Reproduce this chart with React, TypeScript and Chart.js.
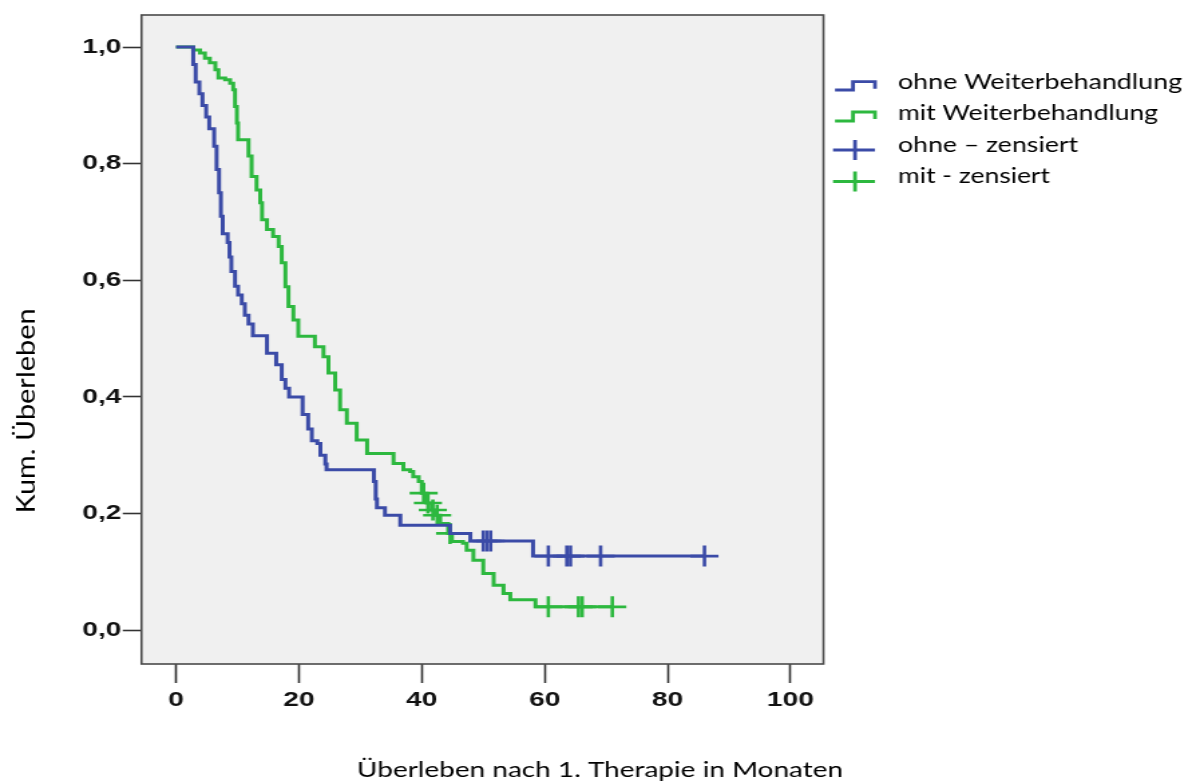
import React, { useEffect, useRef } from 'react';
import { Chart, registerables } from 'chart.js';

Chart.register(...registerables);

// ---------- data ----------
const xTickValues = [0, 20, 40, 60, 80, 100];
const xTickLabels = ['0', '20', '40', '60', '80', '100'];
const yTickValues = [0, 0.2, 0.4, 0.6, 0.8, 1.0];
const yTickLabels = ['0,0', '0,2', '0,4', '0,6', '0,8', '1,0'];
const seriesNames = ['ohne Weiterbehandlung', 'mit Weiterbehandlung', 'ohne – zensiert', 'mit - zensiert'];
const xTitle = 'Überleben nach 1. Therapie in Monaten';
const yTitle = 'Kum. Überleben';

const ohneTimes = [0, 2.8, 3.2, 3.8, 4.3, 4.9, 5.4, 6.2, 6.6, 7.0, 7.3, 7.6, 8.4, 8.7, 9.0, 9.6, 10.1, 10.7, 11.2, 11.8, 12.5, 14.8, 16.3, 17.2, 17.8, 18.4, 20.6, 21.5, 22.1, 23.0, 23.5, 24.3, 24.5, 32.2, 32.5, 32.7, 34.0, 36.5, 44.6, 47.9, 58.1, 86.0];
const ohneSurv = [1, 0.97, 0.94, 0.92, 0.9, 0.88, 0.86, 0.83, 0.79, 0.75, 0.71, 0.68, 0.665, 0.64, 0.615, 0.59, 0.575, 0.56, 0.54, 0.525, 0.505, 0.475, 0.455, 0.43, 0.415, 0.4, 0.37, 0.345, 0.325, 0.32, 0.3, 0.285, 0.275, 0.255, 0.225, 0.21, 0.197, 0.18, 0.166, 0.153, 0.127, 0.127];

const mitTimes = [0, 2.8, 3.9, 4.7, 5.5, 6.4, 6.9, 8.0, 8.8, 9.3, 9.6, 9.9, 10.1, 11.8, 12.3, 13.1, 13.7, 14.0, 14.8, 15.8, 16.7, 17.2, 17.8, 18.3, 19.1, 19.9, 22.6, 24.0, 24.8, 25.9, 26.7, 27.8, 29.4, 31.1, 35.4, 37.0, 38.1, 38.6, 39.5, 40.0, 40.8, 41.6, 42.2, 43.0, 44.3, 44.9, 46.7, 47.3, 48.4, 50.0, 51.7, 53.3, 54.4, 58.5, 71.0];
const mitSurv = [1, 0.995, 0.99, 0.981, 0.973, 0.961, 0.947, 0.944, 0.938, 0.927, 0.898, 0.87, 0.841, 0.813, 0.778, 0.755, 0.733, 0.704, 0.687, 0.675, 0.658, 0.63, 0.589, 0.555, 0.532, 0.504, 0.486, 0.469, 0.441, 0.412, 0.378, 0.355, 0.326, 0.303, 0.286, 0.275, 0.272, 0.263, 0.255, 0.235, 0.218, 0.206, 0.197, 0.183, 0.166, 0.152, 0.149, 0.137, 0.12, 0.097, 0.077, 0.063, 0.052, 0.04, 0.04];

const ohneCensTimes = [50.0, 50.6, 51.2, 60.6, 63.6, 64.2, 69.1, 86.0];
const ohneCensSurv = [0.153, 0.153, 0.153, 0.127, 0.127, 0.127, 0.127, 0.127];
const mitCensTimes = [40.3, 41.0, 41.8, 42.5, 44.6, 60.6, 65.5, 66.1, 71.0];
const mitCensSurv = [0.235, 0.218, 0.206, 0.197, 0.166, 0.04, 0.04, 0.04, 0.04];

// ---------- styling ----------
const BLUE = '#3b4ba7';
const GREEN = '#2db83f';
const CW = 900; // canvas drawing width (stretched to 1204 by CSS)
const CH = 783;
const S = 1204 / CW;

function fitText(ctx: CanvasRenderingContext2D, text: string, x: number, y: number, font: string, targetW: number, align: CanvasTextAlign) {
  ctx.save();
  ctx.font = font;
  const w = ctx.measureText(text).width;
  ctx.translate(x, y);
  ctx.scale(targetW / w, 1);
  ctx.textAlign = align;
  ctx.textBaseline = 'alphabetic';
  ctx.fillText(text, 0, 0);
  ctx.restore();
}

const decor = {
  id: 'kmDecor',
  beforeDraw(chart: any) {
    const { ctx, chartArea: a } = chart;
    ctx.save();
    ctx.fillStyle = '#f0f0f0';
    ctx.fillRect(a.left, a.top, a.right - a.left, a.bottom - a.top);
    ctx.restore();
  },
  afterDraw(chart: any) {
    const { ctx, chartArea: a } = chart;
    ctx.save();
    ctx.strokeStyle = '#4a4a4a';
    ctx.lineWidth = 1.6;
    ctx.strokeRect(a.left, a.top, a.right - a.left, a.bottom - a.top);

    // legend icons
    const ix = (X: number) => X / S;
    ctx.lineWidth = 2.8;
    ctx.lineCap = 'butt';
    ctx.lineJoin = 'miter';
    const step = (color: string, low: number, top: number) => {
      ctx.strokeStyle = color;
      ctx.beginPath();
      ctx.moveTo(ix(835), low);
      ctx.lineTo(ix(853), low);
      ctx.lineTo(ix(853), top);
      ctx.lineTo(ix(875), top);
      ctx.lineTo(ix(875), top + 7);
      ctx.stroke();
    };
    const cross = (color: string, cy: number) => {
      ctx.strokeStyle = color;
      ctx.beginPath();
      ctx.moveTo(ix(833), cy);
      ctx.lineTo(ix(875), cy);
      ctx.moveTo(ix(855), cy - 10);
      ctx.lineTo(ix(855), cy + 10);
      ctx.stroke();
    };
    step(BLUE, 90, 81.7);
    step(GREEN, 121, 112);
    cross(BLUE, 150);
    cross(GREEN, 181.5);

    ctx.fillStyle = '#000';
    const lf = '21px Lato';
    const tx = ix(898);
    fitText(ctx, seriesNames[0], tx, 88.5, lf, 284 / S, 'left');
    fitText(ctx, seriesNames[1], tx, 120, lf, 260 / S, 'left');
    fitText(ctx, seriesNames[2], tx, 151.5, lf, 180 / S, 'left');
    fitText(ctx, seriesNames[3], tx, 183, lf, 152 / S, 'left');

    // x title
    fitText(ctx, xTitle, 600 / S, 777, '21px Lato', 486 / S, 'center');

    // y title (rotated, not stretched)
    ctx.save();
    ctx.translate(35 / S, 411);
    ctx.scale(1 / S, 1);
    ctx.rotate(-Math.PI / 2);
    ctx.font = '25px Lato';
    const w = ctx.measureText(yTitle).width;
    ctx.scale(205 / w, 1);
    ctx.textAlign = 'center';
    ctx.textBaseline = 'alphabetic';
    ctx.fillText(yTitle, 0, 0);
    ctx.restore();

    ctx.restore();
  },
};

const AREA_LEFT = 141.5 / S;
const AREA_RIGHT = 823.5 / S;
const AREA_TOP = 15;
const AREA_BOTTOM = 664;

export default function App() {
  const ref = useRef<HTMLCanvasElement | null>(null);

  useEffect(() => {
    if (!ref.current) return;
    const tickFont = { family: 'Liberation Sans', size: 21, weight: 'bold' as const };
    const chart = new Chart(ref.current, {
      type: 'line',
      data: {
        datasets: [
          {
            label: seriesNames[0],
            data: ohneTimes.map((t, i) => ({ x: t, y: ohneSurv[i] })),
            stepped: 'before',
            borderColor: BLUE,
            borderWidth: 3,
            pointRadius: 0,
            fill: false,
          },
          {
            label: seriesNames[1],
            data: mitTimes.map((t, i) => ({ x: t, y: mitSurv[i] })),
            stepped: 'before',
            borderColor: GREEN,
            borderWidth: 3,
            pointRadius: 0,
            fill: false,
          },
          {
            label: seriesNames[2],
            data: ohneCensTimes.map((t, i) => ({ x: t, y: ohneCensSurv[i] })),
            showLine: false,
            pointStyle: 'cross',
            pointRadius: 10.5,
            borderColor: BLUE,
            borderWidth: 2.6,
          },
          {
            label: seriesNames[3],
            data: mitCensTimes.map((t, i) => ({ x: t, y: mitCensSurv[i] })),
            showLine: false,
            pointStyle: 'cross',
            pointRadius: 10.5,
            borderColor: GREEN,
            borderWidth: 2.6,
          },
        ] as any,
      },
      options: {
        animation: false,
        responsive: false,
        devicePixelRatio: 1,
        layout: { padding: { top: AREA_TOP, right: CW - AREA_RIGHT, left: 0, bottom: 0 } },
        plugins: { legend: { display: false }, tooltip: { enabled: false }, title: { display: false } },
        scales: {
          x: {
            type: 'linear',
            min: -5.62,
            max: 105.38,
            afterFit: (s: any) => { s.height = CH - AREA_BOTTOM; },
            afterBuildTicks: (s: any) => { s.ticks = xTickValues.map((v) => ({ value: v })); },
            border: { display: false },
            grid: { display: true, drawOnChartArea: false, drawTicks: true, tickLength: 19, tickColor: '#333', tickWidth: 1.6, color: '#333' },
            ticks: { padding: 5, font: tickFont, color: '#111', maxRotation: 0, autoSkip: false, callback: (_v: any, i: number) => xTickLabels[i] },
          },
          y: {
            type: 'linear',
            min: -0.058,
            max: 1.055,
            afterFit: (s: any) => { s.width = AREA_LEFT; },
            afterBuildTicks: (s: any) => { s.ticks = yTickValues.map((v) => ({ value: v })); },
            border: { display: false },
            grid: { display: true, drawOnChartArea: false, drawTicks: true, tickLength: 14, tickColor: '#333', tickWidth: 1.6, color: '#333' },
            ticks: { padding: 1, font: tickFont, color: '#111', autoSkip: false, callback: (_v: any, i: number) => yTickLabels[i] },
          },
        },
      },
      plugins: [decor],
    } as any);
    return () => chart.destroy();
  }, []);

  return (
    <div style={{ position: 'fixed', left: 0, top: 0, width: 1204, height: 783, background: '#fff' }}>
      <canvas ref={ref} width={CW} height={CH} style={{ width: '1204px', height: '783px', display: 'block' }} />
    </div>
  );
}
